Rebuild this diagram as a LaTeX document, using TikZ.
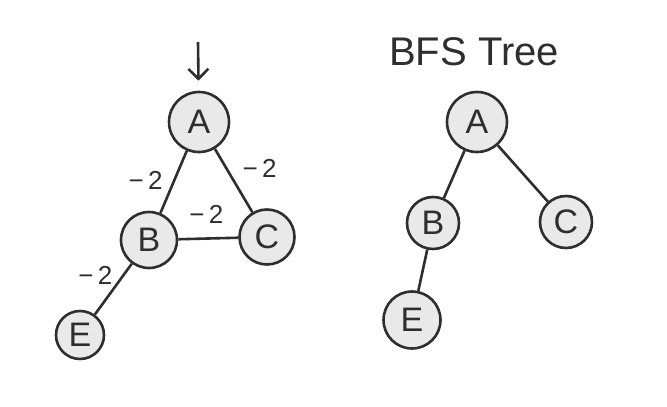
\documentclass[tikz,border=0pt]{standalone}
\usepackage{fontspec}
\setmainfont{Liberation Sans}
\usetikzlibrary{arrows.meta}
\definecolor{ink}{HTML}{2E2E2E}
\definecolor{nodefill}{HTML}{E9E9E9}
\tikzset{
  vtx/.style={circle, draw=ink, fill=nodefill, line width=2.6pt, inner sep=0pt, font=\fontsize{34}{36}\selectfont, text=ink},
  edg/.style={draw=ink, line width=2.6pt},
  wlabel/.style={font=\fontsize{26}{28}\selectfont, text=ink, inner sep=1pt}
}
\begin{document}
\begin{tikzpicture}[x=1pt, y=-1pt]
\useasboundingbox (0,0) rectangle (667,407);
% left graph
\node[vtx, minimum size=60pt] (A) at (199,122) {A};
\node[vtx, minimum size=56pt] (B) at (149,240) {B};
\node[vtx, minimum size=55pt] (C) at (267,237) {C};
\node[vtx, minimum size=48pt] (E) at (80,335) {E};
\coordinate (start) at (198,42);
\draw[edg, -{Straight Barb[length=10pt, width=20pt]}, shorten >=10pt] (start) -- (A);
\draw[edg] (A) -- node[wlabel, pos=0.5, xshift=-28pt, yshift=2pt] {−\,2} (B);
\draw[edg] (A) -- node[wlabel, pos=0.5, xshift=26pt, yshift=12pt] {−\,2} (C);
\draw[edg] (B) -- node[wlabel, pos=0.5, xshift=-2pt, yshift=24pt] {−\,2} (C);
\draw[edg] (B) -- node[wlabel, pos=0.5, xshift=-18pt, yshift=14pt] {−\,2} (E);
% BFS tree
\node[font=\fontsize{40}{44}\selectfont, text=ink] (title) at (474,52) {BFS Tree};
\node[vtx, minimum size=60pt] (TA) at (477,122) {A};
\node[vtx, minimum size=52pt] (TB) at (433,223) {B};
\node[vtx, minimum size=52pt] (TC) at (566,222) {C};
\node[vtx, minimum size=57pt] (TE) at (412,320) {E};
\draw[edg] (TA) -- (TB);
\draw[edg] (TA) -- (TC);
\draw[edg] (TB) -- (TE);
\end{tikzpicture}
\end{document}
